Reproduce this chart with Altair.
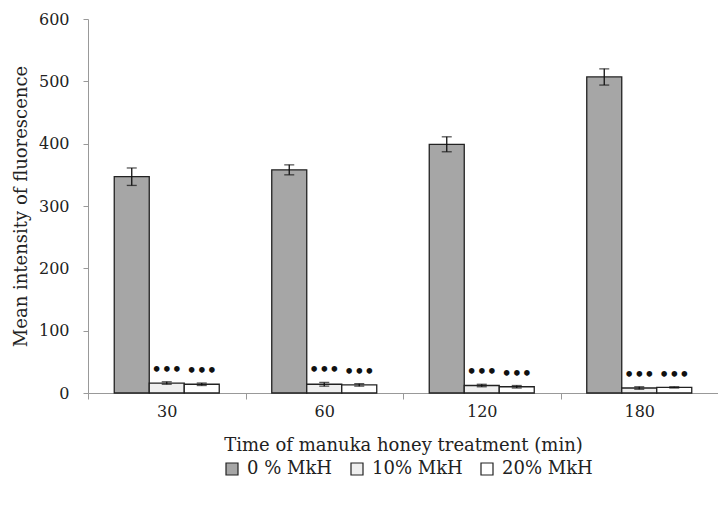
import altair as alt
import pandas as pd

times = ["30", "60", "120", "180"]
series = ["0 % MkH", "10% MkH", "20% MkH"]
mean_0 = [347, 358, 399, 507]
mean_10 = [16, 14, 12, 8]
mean_20 = [14, 13, 10, 9]
err_0 = [14, 8, 12, 13]
err_10 = [2, 3, 2, 2]
err_20 = [2, 2, 2, 1]
star_labels = ["", "•••", "•••"]

means = [mean_0, mean_10, mean_20]
errs = [err_0, err_10, err_20]
rows = []
for si, s in enumerate(series):
    for ti, t in enumerate(times):
        m = means[si][ti]
        e = errs[si][ti]
        rows.append({"time": t, "series": s, "mean": m, "lo": m - e, "hi": m + e,
                     "star": star_labels[si]})
df = pd.DataFrame(rows)

FONT = "DejaVu Serif"
TXT = "#222222"

x = alt.X("time:N", sort=times,
          scale=alt.Scale(paddingInner=0, paddingOuter=0),
          axis=alt.Axis(title="Time of manuka honey  treatment (min)", labelAngle=0,
                        tickBand="extent", domainColor="#999999", tickColor="#999999",
                        tickSize=6, labelPadding=4, titlePadding=17,
                        labelFont=FONT, titleFont=FONT, labelFontSize=16, titleFontSize=18,
                        labelColor=TXT, titleColor=TXT, titleFontWeight="normal"))
xo = alt.XOffset("series:N", sort=series,
                 scale=alt.Scale(domain=series, paddingInner=0, paddingOuter=0.75))

base = alt.Chart(df).encode(x=x, xOffset=xo)

bars = base.mark_bar(stroke="#222222", strokeWidth=1.3).encode(
    y=alt.Y("mean:Q", scale=alt.Scale(domain=[0, 600]),
            axis=alt.Axis(values=[0, 100, 200, 300, 400, 500, 600], grid=False,
                          title="Mean intensity of fluorescence",
                          domainColor="#999999", tickColor="#999999", tickSize=5,
                          labelPadding=14, titlePadding=8,
                          labelFont=FONT, titleFont=FONT, labelFontSize=16, titleFontSize=18,
                          labelColor=TXT, titleColor=TXT, titleFontWeight="normal")),
    color=alt.Color("series:N", sort=series,
                    scale=alt.Scale(domain=series, range=["#a6a6a6", "#efefef", "#ffffff"]),
                    legend=alt.Legend(title=None, orient="none", direction="horizontal",
                                      legendX=135, legendY=441,
                                      symbolType="square", symbolStrokeColor="#222222",
                                      symbolStrokeWidth=1.2, symbolSize=144,
                                      labelFont=FONT, labelFontSize=18, labelColor=TXT,
                                      labelOffset=6, columnPadding=15)),
)

rules = base.mark_rule(color="#111111", strokeWidth=1.3).encode(
    y="lo:Q", y2="hi:Q")
caps_hi = base.mark_tick(color="#111111", thickness=1.3, size=10).encode(y="hi:Q")
caps_lo = base.mark_tick(color="#111111", thickness=1.3, size=10).encode(y="lo:Q")

stars = base.mark_text(fontSize=16, fontWeight="bold", color="#111111", dy=-12,
                       font="DejaVu Sans").encode(y="hi:Q", text="star:N")

chart = alt.layer(bars, rules, caps_hi, caps_lo, stars).properties(
    width=630, height=374,
    autosize=alt.AutoSizeParams(type="none"),
    padding={"left": 80, "top": 11, "right": 0, "bottom": 105}
).configure_view(stroke=None)

chart.save("out.html", embed_options={"renderer": "svg", "actions": False})
